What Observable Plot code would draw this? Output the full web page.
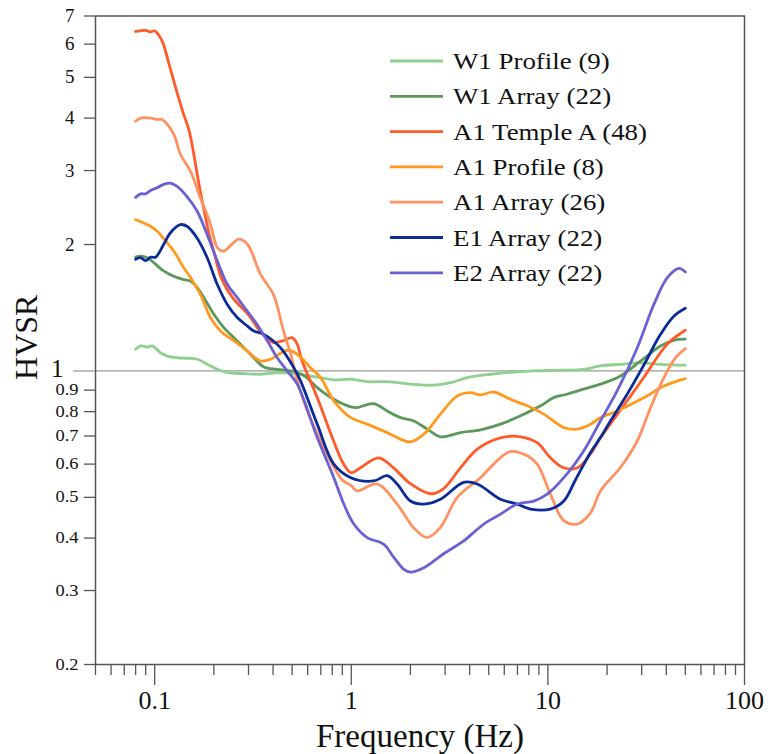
<!DOCTYPE html>
<html>
<head>
<meta charset="utf-8">
<script src="https://cdn.jsdelivr.net/npm/d3@7"></script>
<script src="https://cdn.jsdelivr.net/npm/@observablehq/plot@0.6"></script>
<style>
  body { margin: 0; background: #fff; }
  #chart svg { display: block; }
</style>
</head>
<body>
<div id="chart"></div>
<script>
// ---- Data ----
const seriesNames = ["W1 Profile (9)", "W1 Array (22)", "A1 Temple A (48)", "A1 Profile (8)", "A1 Array (26)", "E1 Array (22)", "E2 Array (22)"];
const seriesColors = ["#8fd08e", "#5b995b", "#ff5a28", "#ff9a1f", "#ff9262", "#0a2b98", "#6a62d2"];

const w1ProfileF = [0.08,0.0848,0.0917,0.0973,0.107,0.116,0.13,0.146,0.165,0.185,0.208,0.234,0.284,0.345,0.436,0.531,0.698,0.815,0.995,1.2,1.52,2.0,2.63,3.2,3.89,5.11,6.21,8.48,11.6,15.2,18.5,23.4,29.6,37.4,50];
const w1ProfileV = [1.126,1.147,1.14,1.147,1.105,1.085,1.075,1.072,1.066,1.037,1.009,0.991,0.985,0.982,0.991,0.982,0.964,0.952,0.956,0.943,0.943,0.93,0.925,0.938,0.964,0.982,0.991,1.0,1.004,1.009,1.028,1.037,1.046,1.037,1.032];

const w1ArrayF = [0.08,0.0848,0.0917,0.099,0.111,0.125,0.1406,0.152,0.1645,0.178,0.2,0.2247,0.253,0.284,0.319,0.359,0.42,0.491,0.574,0.671,0.815,0.995,1.07,1.3,1.52,1.78,2.08,2.43,2.84,3.59,4.54,5.74,7.26,9.18,10.7,12.5,15.2,18.5,23.4,29.6,37.4,43.7,50];
const w1ArrayV = [1.866,1.876,1.86,1.81,1.73,1.68,1.65,1.637,1.578,1.494,1.364,1.268,1.2,1.136,1.075,1.022,1.009,1.0,0.975,0.913,0.856,0.821,0.818,0.836,0.803,0.774,0.76,0.727,0.697,0.713,0.724,0.747,0.782,0.826,0.864,0.88,0.905,0.93,0.973,1.056,1.147,1.183,1.19];

const a1TempleF = [0.08,0.09,0.095,0.1,0.105,0.11,0.12,0.13,0.14,0.15,0.17,0.19,0.2,0.22,0.25,0.3,0.35,0.4,0.45,0.5,0.53,0.56,0.6,0.671,0.812,0.913,1.0,1.114,1.375,1.64,2.0,2.53,2.94,3.59,4.39,5.74,7.26,8.85,10.3,12.0,14.15,16.5,18.5,20.8,25.3,30.6,40.6,50];
const a1TempleV = [6.43,6.47,6.42,6.45,6.3,6.05,5.25,4.6,4.1,3.72,2.7,2.1,1.92,1.65,1.49,1.36,1.23,1.17,1.18,1.2,1.16,1.06,0.98,0.864,0.682,0.601,0.572,0.588,0.621,0.588,0.539,0.51,0.524,0.588,0.652,0.693,0.697,0.674,0.621,0.588,0.588,0.635,0.693,0.748,0.849,0.962,1.16,1.25];

const a1ProfileF = [0.08,0.088,0.0953,0.103,0.1135,0.125,0.1406,0.152,0.171,0.192,0.216,0.253,0.2955,0.345,0.388,0.472,0.531,0.62,0.698,0.815,0.995,1.205,1.52,1.78,2.0,2.34,2.84,3.46,4.04,4.54,5.31,6.45,7.85,9.53,12.05,14.1,16.5,18.5,22.5,30.9,38.9,50];
const a1ProfileV = [2.29,2.25,2.21,2.15,2.04,1.93,1.76,1.67,1.52,1.34,1.245,1.18,1.116,1.056,1.066,1.12,1.096,1.018,0.964,0.849,0.774,0.747,0.713,0.688,0.678,0.707,0.789,0.872,0.888,0.877,0.891,0.856,0.826,0.789,0.733,0.727,0.747,0.774,0.803,0.864,0.921,0.959];

const a1ArrayF = [0.08,0.0848,0.0953,0.103,0.109,0.125,0.135,0.152,0.171,0.192,0.209,0.224,0.252,0.267,0.297,0.345,0.402,0.452,0.491,0.53,0.6,0.7,0.8,0.9,1.0,1.07,1.355,1.71,2.07,2.43,2.84,3.46,4.54,5.74,6.45,7.85,8.83,10.3,12.05,14.1,16.5,18.5,23.4,28.5,33.3,38.9,44.6,50];
const a1ArrayV = [3.93,4.0,4.0,3.97,3.97,3.66,3.28,2.99,2.58,2.24,1.96,1.93,2.02,2.06,2.0,1.70,1.52,1.245,1.10,0.95,0.80,0.68,0.60,0.55,0.533,0.518,0.538,0.482,0.424,0.401,0.424,0.50,0.557,0.622,0.643,0.628,0.60,0.509,0.44,0.432,0.46,0.518,0.589,0.682,0.818,0.964,1.075,1.13];

const e1ArrayF = [0.08,0.0848,0.0898,0.0953,0.101,0.111,0.12,0.135,0.146,0.1645,0.185,0.208,0.234,0.263,0.2955,0.319,0.359,0.436,0.51,0.552,0.671,0.815,0.995,1.3,1.52,1.71,2.0,2.34,2.84,3.73,4.37,5.74,6.98,8.16,10.3,12.05,13.8,16.5,18.5,20.8,25.3,30.9,37.4,43.7,50];
const e1ArrayV = [1.844,1.86,1.83,1.866,1.866,2.0,2.13,2.23,2.21,2.07,1.86,1.608,1.44,1.34,1.28,1.245,1.222,1.136,1.018,0.947,0.747,0.60,0.557,0.547,0.563,0.538,0.49,0.482,0.495,0.543,0.538,0.495,0.482,0.469,0.469,0.49,0.55,0.64,0.694,0.76,0.88,1.037,1.222,1.35,1.41];

const e2ArrayF = [0.08,0.0848,0.0898,0.0953,0.103,0.111,0.12,0.13,0.146,0.1645,0.185,0.208,0.234,0.263,0.2955,0.332,0.374,0.42,0.472,0.531,0.671,0.815,0.916,1.03,1.205,1.46,1.645,1.85,2.0,2.34,2.95,3.73,4.72,5.74,6.98,8.48,9.92,12.05,15.2,18.5,22.5,28.5,34.6,40.5,46.3,50];
const e2ArrayV = [2.59,2.64,2.64,2.69,2.73,2.78,2.80,2.75,2.60,2.40,2.11,1.83,1.608,1.494,1.389,1.29,1.18,1.075,1.0,0.93,0.694,0.557,0.482,0.432,0.401,0.387,0.36,0.337,0.332,0.34,0.367,0.394,0.432,0.456,0.482,0.49,0.509,0.557,0.645,0.76,0.896,1.136,1.44,1.667,1.755,1.72];

const xMajorTicks = [0.1, 1, 10, 100];
const xMinorTicks = [0.05,0.06,0.07,0.08,0.09,0.2,0.3,0.4,0.5,0.6,0.7,0.8,0.9,2,3,4,5,6,7,8,9,20,30,40,50,60,70,80,90];
const yUpperTicks = [2, 3, 4, 5, 6, 7];
const yLowerTicks = [0.2, 0.3, 0.4, 0.5, 0.6, 0.7, 0.8, 0.9];
const yUnityTick = [1];

// ---- Build table ----
const seriesF = [w1ProfileF, w1ArrayF, a1TempleF, a1ProfileF, a1ArrayF, e1ArrayF, e2ArrayF];
const seriesV = [w1ProfileV, w1ArrayV, a1TempleV, a1ProfileV, a1ArrayV, e1ArrayV, e2ArrayV];
const rows = [];
seriesNames.forEach((name, i) => {
  seriesF[i].forEach((f, j) => rows.push({series: name, f, v: seriesV[i][j]}));
});

const font = "'Liberation Serif', 'Times New Roman', serif";
const axisColor = "#555";
const ink = "#111";

const chart = Plot.plot({
  width: 775,
  height: 754,
  marginLeft: 95,
  marginRight: 31,
  marginTop: 15.5,
  marginBottom: 90,
  style: {fontFamily: font, background: "#fff", color: ink},
  x: {type: "log", domain: [0.05, 100]},
  y: {type: "log", domain: [0.2, 7]},
  color: {domain: seriesNames, range: seriesColors},
  marks: [
    Plot.ruleY(yUnityTick, {stroke: "#9a9a9a", strokeWidth: 1.3}),
    Plot.line(rows, {x: "f", y: "v", z: "series", stroke: "series", curve: "catmull-rom", strokeWidth: 2.8, strokeLinejoin: "round"}),
    Plot.frame({stroke: axisColor, strokeWidth: 1.5}),
    // tick marks
    Plot.axisX({ticks: xMinorTicks, tickSize: 11, tickFormat: () => "", label: null, stroke: axisColor, strokeWidth: 1.3}),
    Plot.axisX({ticks: xMajorTicks, tickSize: 21, tickFormat: () => "", label: null, stroke: axisColor, strokeWidth: 1.3}),
    Plot.axisY({ticks: yUpperTicks.concat(yLowerTicks), tickSize: 11, tickFormat: () => "", label: null, stroke: axisColor, strokeWidth: 1.3}),
    Plot.axisY({ticks: yUnityTick, tickSize: 22, tickFormat: () => "", label: null, stroke: "#9a9a9a", strokeWidth: 1.3}),
    // tick labels
    Plot.text(xMajorTicks, {x: d => d, frameAnchor: "bottom", lineAnchor: "top", dy: 26, text: d => String(d), fontSize: 26, fill: ink}),
    Plot.text(yUpperTicks, {y: d => d, frameAnchor: "left", textAnchor: "end", dx: -21, text: d => String(d), fontSize: 19, fill: ink}),
    Plot.text(yLowerTicks, {y: d => d, frameAnchor: "left", textAnchor: "end", dx: -17, text: d => String(d), fontSize: 16, fill: ink}),
    Plot.text(yUnityTick, {y: d => d, frameAnchor: "left", textAnchor: "end", dx: -32, dy: -2, text: d => String(d), fontSize: 25, fill: ink}),
    // axis titles
    Plot.text(["Frequency (Hz)"], {frameAnchor: "bottom", textAnchor: "middle", dy: 82, fontSize: 33, fill: ink}),
    Plot.text(["HVSR"], {frameAnchor: "left", textAnchor: "middle", rotate: -90, dx: -69, dy: -3, fontSize: 32, fill: ink})
  ]
});

document.getElementById("chart").appendChild(chart);

// ---- Legend inside the plot area ----
const svg = d3.select(chart);
const legend = svg.append("g").attr("class", "legend").attr("font-family", font).attr("font-size", 24).attr("fill", ink).attr("text-anchor", "start");
seriesNames.forEach((name, i) => {
  const yy = 61 + i * 35.3;
  legend.append("line").attr("x1", 390).attr("x2", 443).attr("y1", yy).attr("y2", yy)
    .attr("stroke", seriesColors[i]).attr("stroke-width", 2.8);
  legend.append("text").attr("x", 453).attr("y", yy).attr("dy", "0.34em").text(name);
});

// The reference typeface is slightly wider than Liberation Serif: widen glyphs a little.
function widen(selection, k) {
  selection.each(function () {
    const w = this.getComputedTextLength();
    if (w > 0) {
      this.setAttribute("textLength", (w * k).toFixed(2));
      this.setAttribute("lengthAdjust", "spacingAndGlyphs");
    }
  });
}
svg.selectAll('g[aria-label="text"]').each(function () {
  const fs = this.getAttribute("font-size");
  if (fs === "16") widen(d3.select(this).selectAll("text"), 1.15);
});
widen(legend.selectAll("text"), 1.12);
</script>
</body>
</html>
